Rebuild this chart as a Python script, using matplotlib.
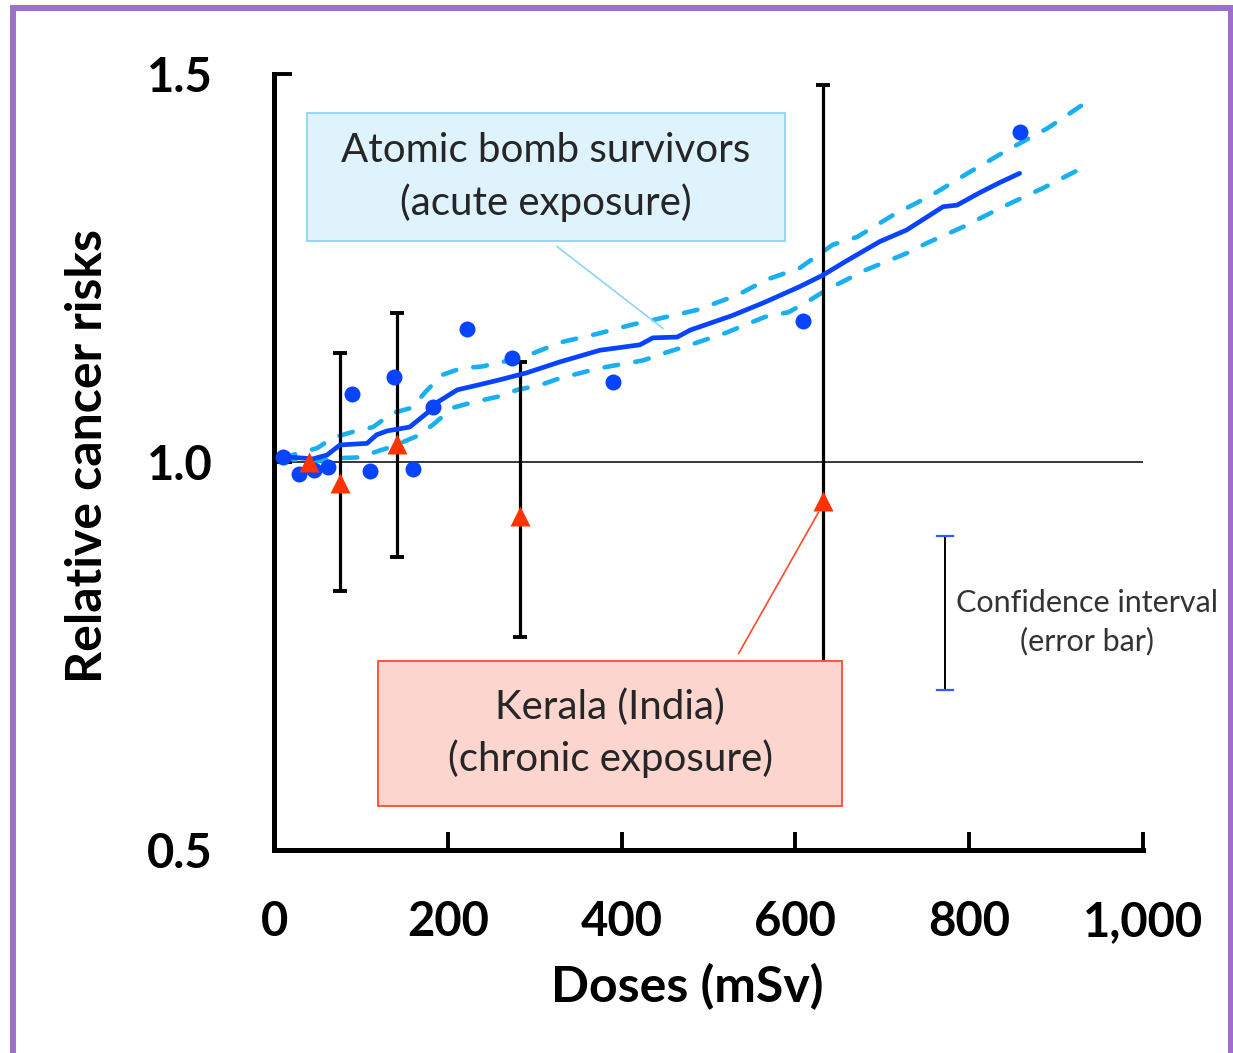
import numpy as np
import matplotlib
matplotlib.use("Agg")
import matplotlib.pyplot as plt
from matplotlib.patches import Rectangle

plt.rcParams["font.family"] = ["Lato", "DejaVu Sans"]

# Atomic bomb survivors (acute exposure): observed points
bomb_dose = [10, 29, 46, 62, 90, 110, 138, 160, 183, 222, 274, 390, 609, 858]
bomb_risk = [1.006, 0.985, 0.990, 0.994, 1.088, 0.988, 1.110, 0.991, 1.071,
             1.171, 1.134, 1.103, 1.182, 1.425]

# fitted curve
fit_dose = [9, 22, 45, 61, 76, 107, 118, 130, 156, 176, 188, 211, 234, 260,
            291, 329, 375, 421, 436, 464, 479, 528, 565, 605, 632, 657, 697,
            728, 770, 786, 812, 835, 858]
fit_risk = [1.006, 1.006, 1.004, 1.009, 1.022, 1.024, 1.035, 1.040, 1.045,
            1.063, 1.077, 1.093, 1.099, 1.106, 1.115, 1.129, 1.144, 1.151,
            1.160, 1.161, 1.170, 1.189, 1.206, 1.226, 1.241, 1.258, 1.284,
            1.299, 1.329, 1.331, 1.347, 1.360, 1.372]

# confidence band (dashed)
upper_dose = [9, 18, 50, 67, 91, 114, 136, 159, 174, 193, 216, 239, 287, 329,
              375, 412, 436, 487, 533, 567, 605, 643, 671, 712, 757, 801, 844,
              890, 930]
upper_risk = [1.006, 1.008, 1.018, 1.031, 1.039, 1.045, 1.063, 1.070, 1.090,
              1.112, 1.121, 1.123, 1.135, 1.154, 1.166, 1.177, 1.183, 1.196,
              1.215, 1.235, 1.250, 1.280, 1.290, 1.318, 1.344, 1.374, 1.402,
              1.430, 1.460]
lower_dose = [9, 40, 74, 99, 122, 134, 168, 185, 206, 229, 257, 280, 306, 329,
              375, 425, 448, 471, 519, 565, 592, 613, 636, 680, 728, 751, 793,
              839, 885, 930]
lower_risk = [1.006, 1.000, 1.005, 1.006, 1.015, 1.019, 1.035, 1.050, 1.070,
              1.077, 1.084, 1.093, 1.099, 1.108, 1.121, 1.131, 1.140, 1.148,
              1.166, 1.187, 1.193, 1.206, 1.222, 1.247, 1.269, 1.282, 1.303,
              1.329, 1.353, 1.379]

# Kerala (India), chronic exposure
kerala_dose = [40, 76, 141, 283, 632]
kerala_risk = [1.000, 0.973, 1.023, 0.930, 0.950]
kerala_lo = [np.nan, 0.834, 0.878, 0.774, 0.620]
kerala_hi = [np.nan, 1.140, 1.192, 1.129, 1.486]

x_ticks = [0, 200, 400, 600, 800, 1000]
x_labels = ["0", "200", "400", "600", "800", "1,000"]
y_ticks = [0.5, 1.0, 1.5]
y_labels = ["0.5", "1.0", "1.5"]

BLUE = "#0843ff"
SKY = "#18b0f0"
RED = "#ff3300"

fig = plt.figure(figsize=(12.33, 10.53), dpi=100)
ax = fig.add_axes([274 / 1233, 1 - 850 / 1053, 869 / 1233, 776 / 1053])
ax.set_xlim(0, 1000)
ax.set_ylim(0.5, 1.5)

# reference line at RR = 1
ax.axhline(1.0, color="black", lw=1.1, zorder=1)

ax.plot(upper_dose, upper_risk, color=SKY, lw=3.3, dashes=(3.0, 3.8),
        dash_capstyle="round", zorder=2)
ax.plot(lower_dose, lower_risk, color=SKY, lw=3.3, dashes=(3.0, 3.8),
        dash_capstyle="round", zorder=2)
ax.plot(fit_dose, fit_risk, color=BLUE, lw=3.4, solid_capstyle="round", zorder=3)
ax.plot(bomb_dose, bomb_risk, "o", color=BLUE, ms=11.5, mec="none", zorder=4)

kd = np.array(kerala_dose, dtype=float)
kr = np.array(kerala_risk)
klo = np.array(kerala_lo)
khi = np.array(kerala_hi)
has_ci = ~np.isnan(klo)
ax.errorbar(kd[has_ci], kr[has_ci],
            yerr=[kr[has_ci] - klo[has_ci], khi[has_ci] - kr[has_ci]],
            fmt="none", ecolor="black", elinewidth=2.3, capsize=5, capthick=2.8,
            zorder=2.5)
ax.plot(kd, kr, "^", color=RED, ms=15, mec="none", zorder=5)

# annotation boxes
ax.add_patch(Rectangle((38, 1.285), 550, 0.165, facecolor="#dff3fd",
                       edgecolor="#8dd4f6", lw=1.3, zorder=6))
ax.text(313, 1.3675, "Atomic bomb survivors\n(acute exposure)", ha="center",
        va="center", fontsize=29, color="#262626", linespacing=1.45, zorder=7)
ax.annotate("", xy=(450, 1.170), xytext=(323, 1.280),
            arrowprops=dict(arrowstyle="-", color="#8dd4f6", lw=1.2), zorder=6)

ax.add_patch(Rectangle((120, 0.557), 534, 0.187, facecolor="#fcd5cf",
                       edgecolor="#ff4a2a", lw=1.3, zorder=6))
ax.text(387, 0.6505, "Kerala (India)\n(chronic exposure)", ha="center",
        va="center", fontsize=29, color="#262626", linespacing=1.45, zorder=7)
ax.annotate("", xy=(628, 0.938), xytext=(533, 0.750),
            arrowprops=dict(arrowstyle="-", color="#ff4a2a", lw=1.2), zorder=6)

# error bar legend
ax.plot([772, 772], [0.706, 0.905], color="black", lw=1.4, zorder=6)
for yc in (0.706, 0.905):
    ax.plot([763, 781], [yc, yc], color="#2f5cff", lw=1.6, zorder=6)
ax.text(935, 0.794, "Confidence interval\n(error bar)", ha="center", va="center",
        fontsize=22, color="#333333", linespacing=1.42, clip_on=False, zorder=7)

# axes styling
for side in ("top", "right"):
    ax.spines[side].set_visible(False)
for side in ("left", "bottom"):
    ax.spines[side].set_linewidth(3.6)
    ax.spines[side].set_capstyle("projecting")
ax.set_xticks(x_ticks)
ax.set_xticklabels(x_labels)
ax.set_yticks(y_ticks)
ax.set_yticklabels(y_labels)
ax.tick_params(axis="x", direction="in", length=13, width=2.8, pad=36,
               labelsize=34)
ax.tick_params(axis="y", direction="in", length=13, width=2.8, pad=44,
               labelsize=34)
for lab in ax.get_xticklabels() + ax.get_yticklabels():
    lab.set_fontweight("bold")

fig.text(88 / 1233, 1 - 456 / 1053, "Relative cancer risks", rotation=90,
         ha="center", va="center", fontsize=36, fontweight="bold")
fig.text(687 / 1233, 1 - 987 / 1053, "Doses (mSv)", ha="center", va="center",
         fontsize=36, fontweight="bold")

# purple frame
fig.patches.append(Rectangle((13 / 1233, -0.02), 1218 / 1233, 1.02 - 7.5 / 1053,
                             transform=fig.transFigure, fill=False,
                             edgecolor="#9b6fca", lw=4.3))

fig.savefig("out.png", dpi=100)
